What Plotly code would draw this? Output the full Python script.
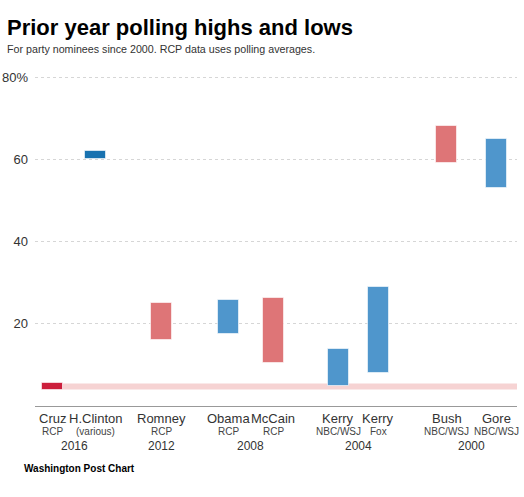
import plotly.graph_objects as go

# ---- data ----
names = ["Cruz", "H.Clinton", "Romney", "Obama", "McCain", "Kerry", "Kerry", "Bush", "Gore"]
sources = ["RCP", "(various)", "RCP", "RCP", "RCP", "NBC/WSJ", "Fox", "NBC/WSJ", "NBC/WSJ"]
lows = [4.0, 60.0, 16.0, 17.5, 10.4, 4.9, 8.0, 59.0, 53.0]
highs = [5.5, 62.0, 25.0, 25.7, 26.3, 13.9, 28.9, 68.0, 64.9]
party = ["R", "D", "R", "D", "R", "D", "D", "R", "D"]
years = ["2016", "2012", "2008", "2004", "2000"]
year_groups = [[0, 1], [2], [3, 4], [5, 6], [7, 8]]
y_ticks = [20, 40, 60, 80]
y_ticktext = ["20", "40", "60", "80%"]

# ---- layout positions (x slot centres on a pixel-like axis) ----
x_pos = [52.5, 95.5, 161, 228.5, 273, 338, 378, 446.5, 496.5]
bar_w = 21
PAGE_W, PAGE_H = 524, 497
X0, X1 = 35, 517
Y_MAX = 81
H_BOT = 406
PX_PER_UNIT = (406 - 77) / 80.0
H_TOP = H_BOT - PX_PER_UNIT * Y_MAX

colors = []
for i, p in enumerate(party):
    if i == 0:
        colors.append("#cc1f3c")
    elif i == 1:
        colors.append("#1872b0")
    else:
        colors.append("#de7577" if p == "R" else "#4f96cc")

fig = go.Figure()
fig.add_trace(go.Bar(
    x=x_pos, y=[h - l for h, l in zip(highs, lows)], base=lows,
    width=bar_w, marker=dict(color=colors, line=dict(color="rgba(255,255,255,0.6)", width=1)),
    hoverinfo="skip", showlegend=False,
))

# Cruz reference band across the chart
fig.add_shape(type="rect", xref="x", yref="y",
              x0=x_pos[0] + bar_w / 2, x1=X1, y0=lows[0], y1=highs[0],
              fillcolor="#f6d3d3", line=dict(width=0), layer="below")

ann = []
for x, n, s in zip(x_pos, names, sources):
    ann.append(dict(x=x, y=0, xref="x", yref="paper", text=n, showarrow=False,
                    yanchor="middle", yshift=-12, font=dict(size=13, color="#333")))
    ann.append(dict(x=x, y=0, xref="x", yref="paper", text=s, showarrow=False,
                    yanchor="middle", yshift=-25, font=dict(size=10, color="#444")))
for yr, grp in zip(years, year_groups):
    cx = sum(x_pos[i] for i in grp) / len(grp)
    ann.append(dict(x=cx, y=0, xref="x", yref="paper", text=yr, showarrow=False,
                    yanchor="middle", yshift=-40, font=dict(size=12, color="#333")))

def px_x(px):
    return (px - X0) / (X1 - X0)

def px_y(py):
    return (H_BOT - py) / (H_BOT - H_TOP)

ann.append(dict(x=px_x(5), y=px_y(27), xref="paper", yref="paper", xanchor="left", yanchor="middle",
                text="<b>Prior year polling highs and lows</b>", showarrow=False,
                font=dict(size=22, color="#000", family="Liberation Sans, Arial, sans-serif")))
ann.append(dict(x=px_x(5), y=px_y(49), xref="paper", yref="paper", xanchor="left", yanchor="middle",
                text="For party nominees since 2000. RCP data uses polling averages.", showarrow=False,
                font=dict(size=10.7, color="#333")))
ann.append(dict(x=px_x(22), y=px_y(469), xref="paper", yref="paper", xanchor="left", yanchor="middle",
                text="<b>Washington Post Chart</b>", showarrow=False,
                font=dict(size=10, color="#000")))

fig.update_layout(
    width=PAGE_W, height=PAGE_H,
    margin=dict(l=X0, r=PAGE_W - X1, t=H_TOP, b=PAGE_H - H_BOT, pad=0,
                autoexpand=False),
    paper_bgcolor="white", plot_bgcolor="white",
    font=dict(family="Liberation Sans, Arial, sans-serif", color="#333"),
    annotations=ann,
    xaxis=dict(range=[X0, X1], showticklabels=False, showgrid=False, zeroline=False,
               showline=True, linecolor="#999", linewidth=1, ticks="", fixedrange=True,
               automargin=False),
    yaxis=dict(range=[0, Y_MAX], tickvals=y_ticks, ticktext=y_ticktext, showgrid=True,
               gridcolor="#d6d6d6", griddash="dot", gridwidth=1, zeroline=False,
               ticks="", ticklabelstandoff=6, tickfont=dict(size=13, color="#333"),
               fixedrange=True, automargin=False),
    bargap=0,
)

fig.write_html("out.html", config={"displayModeBar": False},
               post_script="document.body.style.margin='0';document.body.style.overflow='hidden';")
